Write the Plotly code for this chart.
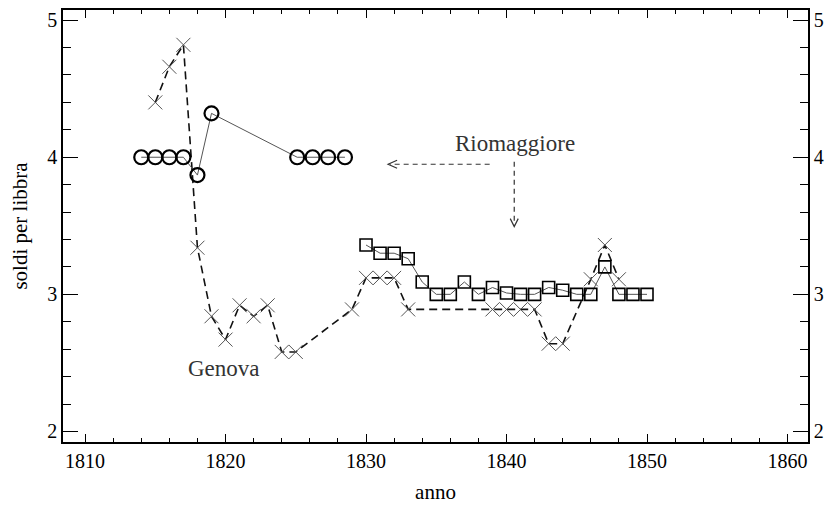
import plotly.graph_objects as go

# Genova price series (soldi per libbra)
genova_years = [1815, 1816, 1817, 1818, 1819, 1820, 1821, 1822, 1823, 1824, 1825,
                1829, 1830, 1831, 1832, 1833, 1839, 1840, 1841, 1842, 1843, 1844,
                1846, 1847, 1848]
genova_prices = [4.40, 4.66, 4.82, 3.34, 2.84, 2.67, 2.92, 2.84, 2.92, 2.58, 2.58,
                 2.89, 3.12, 3.12, 3.12, 2.89, 2.89, 2.89, 2.89, 2.89, 2.64, 2.64,
                 3.11, 3.36, 3.11]

# Riomaggiore, first period (circles)
rio_early_years = [1814, 1815, 1816, 1817, 1818, 1819, 1825.1, 1826.2, 1827.3, 1828.5]
rio_early_prices = [4.0, 4.0, 4.0, 4.0, 3.87, 4.32, 4.0, 4.0, 4.0, 4.0]

# Riomaggiore, second period (squares)
rio_late_years = list(range(1830, 1851))
rio_late_prices = [3.36, 3.30, 3.30, 3.26, 3.09, 3.00, 3.00, 3.09, 3.00, 3.05, 3.01,
                   3.00, 3.00, 3.05, 3.03, 3.00, 3.00, 3.20, 3.00, 3.00, 3.00]

x_ticks = [1810, 1820, 1830, 1840, 1850, 1860]
y_ticks = [2, 3, 4, 5]

FONT = "Liberation Serif"

fig = go.Figure()

fig.add_trace(go.Scatter(
    x=genova_years, y=genova_prices, mode="lines+markers", name="Genova",
    line=dict(color="#111111", width=1.6, dash="8px,5px"),
    marker=dict(symbol="x-thin-open", size=14, color="#555555",
                line=dict(color="#555555", width=1)),
))

fig.add_trace(go.Scatter(
    x=rio_early_years, y=rio_early_prices, mode="lines+markers", name="Riomaggiore",
    line=dict(color="#555555", width=1),
    marker=dict(symbol="circle-open", size=14, color="#000000",
                line=dict(color="#000000", width=2.2)),
))

fig.add_trace(go.Scatter(
    x=rio_late_years, y=rio_late_prices, mode="lines+markers", name="Riomaggiore",
    line=dict(color="#555555", width=1),
    marker=dict(symbol="square-open", size=12, color="#000000",
                line=dict(color="#000000", width=1.6)),
    yaxis="y2",
))

# Labels
fig.add_annotation(x=1819.9, y=2.46, text="Genova", showarrow=False,
                   font=dict(family=FONT, size=23, color="#333333"))
fig.add_annotation(x=1840.6, y=4.10, text="Riomaggiore", showarrow=False,
                   font=dict(family=FONT, size=23, color="#333333"))

# Dashed pointers from the Riomaggiore label
dash_style = dict(color="#333333", width=1.2, dash="5px,4px")
fig.add_shape(type="line", xref="x", yref="y", x0=1838.8, x1=1831.7,
              y0=3.949, y1=3.949, line=dash_style)
fig.add_shape(type="line", xref="x", yref="y", x0=1840.55, x1=1840.55,
              y0=3.968, y1=3.50, line=dash_style)
fig.add_shape(type="path", xref="x", yref="y", xsizemode="pixel", ysizemode="pixel",
              xanchor=1831.57, yanchor=3.949, path="M 9 4 L 0 0 L 9 -4",
              line=dict(color="#333333", width=1.2))
fig.add_shape(type="path", xref="x", yref="y", xsizemode="pixel", ysizemode="pixel",
              xanchor=1840.55, yanchor=3.494, path="M -4 8 L 0 0 L 4 8",
              line=dict(color="#333333", width=1.2))

tick_font = dict(family=FONT, size=20, color="#000000")

fig.update_layout(
    width=832, height=505,
    margin=dict(l=63, r=24, t=10, b=63, autoexpand=False),
    paper_bgcolor="white", plot_bgcolor="white",
    showlegend=False,
    font=dict(family=FONT, color="#000000"),
    xaxis=dict(
        range=[1808.43, 1861.46], automargin=False,
        tickmode="array", tickvals=x_ticks, ticktext=[str(v) for v in x_ticks],
        ticks="inside", ticklen=8, tickwidth=1.3, tickcolor="#000000",
        minor=dict(dtick=2, tick0=1810, ticks="inside", ticklen=4,
                   tickwidth=1.2, tickcolor="#000000"),
        showline=True, linecolor="#000000", linewidth=1.6, mirror="ticks",
        showgrid=False, zeroline=False,
        tickfont=tick_font,
        title=dict(text="anno", font=dict(family=FONT, size=21), standoff=14),
    ),
    yaxis=dict(
        range=[1.923, 5.074], automargin=False,
        tickmode="array", tickvals=y_ticks, ticktext=[str(v) for v in y_ticks],
        ticks="inside", ticklen=15, tickwidth=1.3, tickcolor="#000000",
        minor=dict(dtick=0.2, tick0=2, ticks="inside", ticklen=8,
                   tickwidth=1.2, tickcolor="#000000"),
        showline=True, linecolor="#000000", linewidth=1.6,
        showgrid=False, zeroline=False,
        tickfont=tick_font,
        title=dict(text="soldi per libbra", font=dict(family=FONT, size=21), standoff=14),
    ),
    yaxis2=dict(
        overlaying="y", side="right", matches="y", automargin=False,
        range=[1.923, 5.074],
        tickmode="array", tickvals=y_ticks, ticktext=[str(v) for v in y_ticks],
        ticks="inside", ticklen=15, tickwidth=1.3, tickcolor="#000000",
        minor=dict(dtick=0.2, tick0=2, ticks="inside", ticklen=8,
                   tickwidth=1.2, tickcolor="#000000"),
        showline=True, linecolor="#000000", linewidth=1.6,
        showgrid=False, zeroline=False,
        tickfont=tick_font,
    ),
)

fig.write_html("out.html")
